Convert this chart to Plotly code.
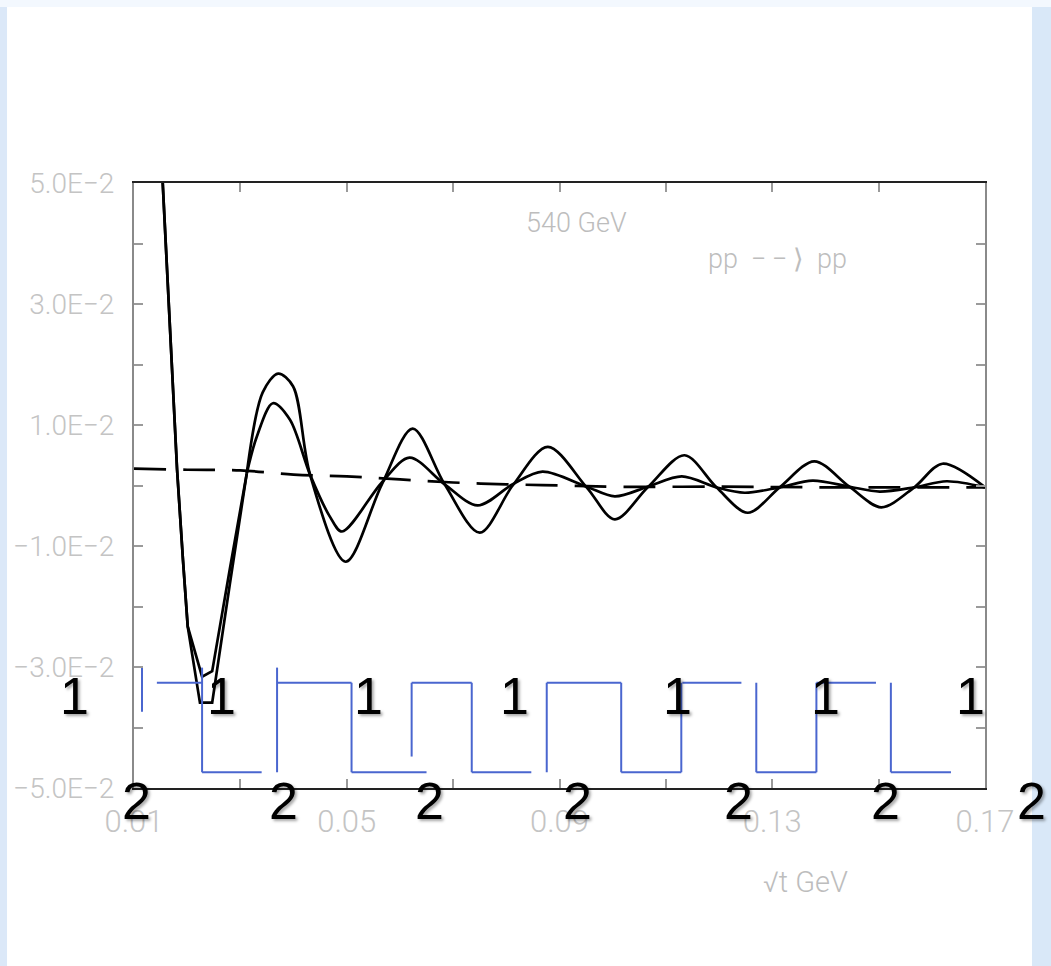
import plotly.graph_objects as go

# ---------------- data ----------------
# curve with large oscillations
big_x = [0.0154, 0.0171, 0.0181, 0.0192, 0.0201, 0.0224, 0.0247, 0.0280, 0.0312, 0.0342,
         0.0371, 0.0399, 0.0431, 0.0498, 0.0566, 0.0624, 0.0684, 0.0750, 0.0812, 0.0878,
         0.0951, 0.1004, 0.1066, 0.1135, 0.1195, 0.1254, 0.1314, 0.1379, 0.1445, 0.1505,
         0.1567, 0.1620, 0.1700]
big_y = [0.0500, 0.0192, 0.0026, -0.0122, -0.0233, -0.0359, -0.0359, -0.0164, 0.0020, 0.0154,
         0.0185, 0.0164, 0.0018, -0.0126, 0.0002, 0.0094, 0.0002, -0.0078, 0.0000, 0.0064,
         -0.0003, -0.0056, -0.0003, 0.0050, -0.0003, -0.0045, -0.0003, 0.0040, -0.0002, -0.0036,
         -0.0003, 0.0036, -0.0003]

# curve with small oscillations
small_x = [0.0154, 0.0171, 0.0181, 0.0192, 0.0201, 0.0228, 0.0247, 0.0280, 0.0312, 0.0331,
           0.0361, 0.0393, 0.0431, 0.0468, 0.0491, 0.0566, 0.0618, 0.0684, 0.0746, 0.0812,
           0.0868, 0.0951, 0.1004, 0.1066, 0.1130, 0.1195, 0.1248, 0.1314, 0.1376, 0.1445,
           0.1502, 0.1567, 0.1628, 0.1700]
small_y = [0.0500, 0.0192, 0.0026, -0.0122, -0.0233, -0.0316, -0.0307, -0.0139, 0.0020, 0.0081,
           0.0136, 0.0109, 0.0018, -0.0051, -0.0076, 0.0005, 0.0046, 0.0002, -0.0033, 0.0002,
           0.0023, -0.0002, -0.0018, -0.0002, 0.0015, -0.0003, -0.0012, -0.0003, 0.0008, -0.0002,
           -0.0010, -0.0003, 0.0007, -0.0003]

# dashed background curve
dash_x = [0.01, 0.02, 0.03, 0.04, 0.05, 0.06, 0.07, 0.08, 0.09, 0.10, 0.12, 0.14, 0.17]
dash_y = [0.0028, 0.0026, 0.0025, 0.0018, 0.0015, 0.0010, 0.0005, 0.0002, 0.0000, -0.0002,
          -0.0002, -0.0003, -0.0003]

# blue square-wave segments (x0, x1, y0, y1)
seg_x0 = [0.0115, 0.0143, 0.0228, 0.0228, 0.0369, 0.0369, 0.0509, 0.0509, 0.0622, 0.0622,
          0.0735, 0.0735, 0.0876, 0.0876, 0.1016, 0.1016, 0.1129, 0.1131, 0.1270, 0.1270,
          0.1383, 0.1383, 0.1523, 0.1523]
seg_x1 = [0.0115, 0.0228, 0.0228, 0.0340, 0.0369, 0.0509, 0.0509, 0.0650, 0.0622, 0.0735,
          0.0735, 0.0847, 0.0876, 0.1016, 0.1016, 0.1129, 0.1129, 0.1242, 0.1270, 0.1383,
          0.1383, 0.1495, 0.1523, 0.1636]
seg_y0 = [-0.0301, -0.0326, -0.0301, -0.0474, -0.0301, -0.0326, -0.0326, -0.0474, -0.0326, -0.0326,
          -0.0326, -0.0474, -0.0326, -0.0326, -0.0326, -0.0474, -0.0326, -0.0326, -0.0326, -0.0474,
          -0.0326, -0.0326, -0.0326, -0.0474]
seg_y1 = [-0.0374, -0.0326, -0.0474, -0.0474, -0.0474, -0.0326, -0.0474, -0.0474, -0.0448, -0.0326,
          -0.0474, -0.0474, -0.0474, -0.0326, -0.0474, -0.0474, -0.0474, -0.0326, -0.0474, -0.0474,
          -0.0474, -0.0326, -0.0474, -0.0474]

x_tickvals = [0.01, 0.03, 0.05, 0.07, 0.09, 0.11, 0.13, 0.15, 0.17]
x_ticktext = ["0.01", "", "0.05", "", "0.09", "", "0.13", "", "0.17"]
y_tickvals = [-0.05, -0.04, -0.03, -0.02, -0.01, 0.0, 0.01, 0.02, 0.03, 0.04, 0.05]
y_ticktext = ["−5.0E−2", "", "−3.0E−2", "", "−1.0E−2", "", "1.0E−2", "", "3.0E−2", "", "5.0E−2"]

label1_x = [-0.0705, 0.1034, 0.2750, 0.4477, 0.6392, 0.8120, 0.9824]
label2_x = [0.0035, 0.1751, 0.3478, 0.5206, 0.7098, 0.8825, 1.0552]

# ---------------- figure ----------------
fig = go.Figure()
SPLIT = 8  # steep dip is drawn with straight segments, oscillations smoothly
LW = 2.7

fig.add_trace(go.Scatter(x=dash_x, y=dash_y, mode="lines",
                         line=dict(color="black", width=LW, dash="32px,17px", shape="spline"),
                         showlegend=False, hoverinfo="skip"))
for xs, ys in ((small_x, small_y), (big_x, big_y)):
    fig.add_trace(go.Scatter(x=xs[:SPLIT + 1], y=ys[:SPLIT + 1], mode="lines",
                             line=dict(color="black", width=LW),
                             showlegend=False, hoverinfo="skip"))
    fig.add_trace(go.Scatter(x=xs[SPLIT:], y=ys[SPLIT:], mode="lines",
                             line=dict(color="black", width=LW, shape="spline", smoothing=0.9),
                             showlegend=False, hoverinfo="skip"))

bx, by = [], []
for a, b, c, d in zip(seg_x0, seg_x1, seg_y0, seg_y1):
    bx += [a, b, None]
    by += [c, d, None]
fig.add_trace(go.Scatter(x=bx, y=by, mode="lines",
                         line=dict(color="#4a66cf", width=2),
                         showlegend=False, hoverinfo="skip", cliponaxis=False))

axis_common = dict(showgrid=False, zeroline=False, ticks="inside", ticklen=9,
                   tickwidth=1.5, tickcolor="#9a9a9a", showline=True, linewidth=2,
                   mirror="ticks")

fig.update_xaxes(range=[0.01, 0.17], tickvals=x_tickvals, ticktext=x_ticktext,
                 linecolor="#222222", ticklabelstandoff=5,
                 tickfont=dict(family="Roboto", size=31, color="#c4c4c4", weight=300),
                 **axis_common)
fig.update_yaxes(range=[-0.05, 0.05], tickvals=y_tickvals, ticktext=y_ticktext,
                 linecolor="#8a8a8a", ticklabelstandoff=12,
                 tickfont=dict(family="Roboto", size=28, color="#c4c4c4", weight=300),
                 **axis_common)

annotations = []
grey = dict(family="Roboto", size=27, color="#bdbdbd", weight=300)
common = dict(xref="paper", yref="paper", showarrow=False, xanchor="center", yanchor="middle")
annotations.append(dict(text="540 GeV", x=0.5194, y=0.9339, font=grey, **common))
annotations.append(dict(text="pp\u00a0 −\u2009−\u2009⟩\u00a0 pp", x=0.7556, y=0.8744, font=grey, **common))
annotations.append(dict(text="√t GeV", x=0.7885, y=-0.1554,
                        font=dict(family="Roboto", size=29, color="#bdbdbd", weight=300), **common))

bigfont = dict(family="Liberation Sans", size=52, color="black",
               shadow="2px 2px 3px rgba(0,0,0,0.35)")
for px in label1_x:
    annotations.append(dict(text="1", x=px, y=0.1521, font=bigfont, **common))
for px in label2_x:
    annotations.append(dict(text="2", x=px, y=-0.0215, font=bigfont, **common))

# light-blue slide border
shapes = [
    dict(type="rect", xref="paper", yref="paper", x0=-0.1575, x1=-0.1492, y0=-0.3, y1=1.31,
         fillcolor="#dbe8f8", line=dict(width=0), layer="below"),
    dict(type="rect", xref="paper", yref="paper", x0=1.0552, x1=1.08, y0=-0.3, y1=1.31,
         fillcolor="#d9e8f8", line=dict(width=0), layer="below"),
    dict(type="rect", xref="paper", yref="paper", x0=-0.16, x1=1.08, y0=1.2909, y1=1.31,
         fillcolor="#f3f8fe", line=dict(width=0), layer="below"),
]

fig.update_layout(width=1051, height=966,
                  margin=dict(l=134, r=66, t=183, b=178),
                  paper_bgcolor="white", plot_bgcolor="white",
                  annotations=annotations, shapes=shapes, showlegend=False)

fig.write_html("out.html")
